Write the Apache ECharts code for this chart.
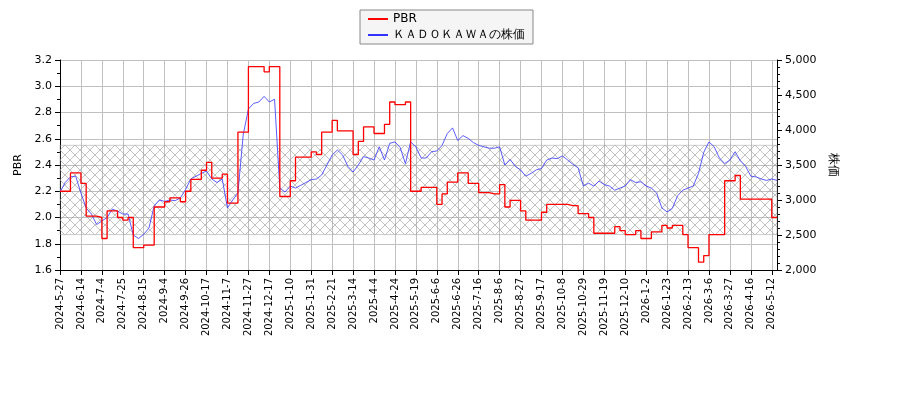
<!DOCTYPE html>
<html>
<head>
<meta charset="utf-8">
<script src="https://cdn.jsdelivr.net/npm/echarts@6/dist/echarts.min.js"></script>
</head>
<body style="margin:0">
<div id="chart" style="width:900px;height:400px"></div>
<script>
// tick labels, one every 4 samples
const tickLabels = ["2024-5-27","2024-6-14","2024-7-4","2024-7-25","2024-8-15","2024-9-4","2024-9-26","2024-10-17","2024-11-7","2024-11-27","2024-12-17","2025-1-10","2025-1-31","2025-2-21","2025-3-14","2025-4-4","2025-4-24","2025-5-19","2025-6-6","2025-6-26","2025-7-16","2025-8-6","2025-8-27","2025-9-17","2025-10-8","2025-10-29","2025-11-19","2025-12-10","2026-1-2","2026-1-23","2026-2-13","2026-3-6","2026-3-27","2026-4-16","2026-5-12"];

const pbr = [2.20,2.20,2.34,2.34,2.26,2.01,2.01,2.00,1.84,2.05,2.05,2.00,1.98,2.00,1.77,1.77,1.79,1.79,2.08,2.08,
  2.12,2.15,2.15,2.12,2.20,2.29,2.29,2.36,2.42,2.30,2.30,2.33,2.11,2.11,2.65,2.65,3.15,3.15,3.15,3.11,
  3.15,3.15,2.16,2.16,2.28,2.46,2.46,2.46,2.50,2.48,2.65,2.65,2.74,2.66,2.66,2.66,2.48,2.58,2.69,2.69,
  2.64,2.64,2.71,2.88,2.86,2.86,2.88,2.20,2.20,2.23,2.23,2.23,2.10,2.18,2.27,2.27,2.34,2.34,2.26,2.26,
  2.19,2.19,2.18,2.18,2.25,2.08,2.13,2.13,2.05,1.98,1.98,1.98,2.04,2.10,2.10,2.10,2.10,2.09,2.09,2.03,
  2.03,2.00,1.88,1.88,1.88,1.88,1.93,1.90,1.87,1.87,1.90,1.84,1.84,1.89,1.89,1.94,1.92,1.94,1.94,1.87,
  1.77,1.77,1.66,1.71,1.87,1.87,1.87,2.28,2.28,2.32,2.14,2.14,2.14,2.14,2.14,2.14,2.00,2.00];

const price = [3114,3250,3330,3340,3100,2886,2800,2650,2700,2750,2870,2840,2800,2800,2500,2450,2510,2600,2920,3000,
  2980,3000,2990,3030,3150,3300,3340,3380,3414,3300,3250,3300,2886,3000,3100,3930,4300,4380,4400,4480,
  4400,4440,3170,3114,3200,3170,3210,3250,3290,3300,3357,3500,3643,3714,3643,3480,3400,3500,3620,3600,
  3571,3760,3571,3810,3830,3750,3520,3830,3760,3600,3600,3690,3700,3780,3950,4030,3850,3920,3880,3820,
  3780,3760,3740,3740,3760,3500,3580,3480,3430,3340,3380,3430,3450,3571,3600,3590,3630,3571,3510,3460,
  3200,3240,3200,3270,3220,3200,3140,3170,3200,3290,3250,3260,3200,3170,3100,2886,2830,2880,3060,3140,
  3170,3200,3380,3680,3830,3760,3600,3520,3571,3690,3560,3480,3340,3330,3300,3280,3300,3280];

const band = [1.87, 2.55];
const step = 4;
const categories = pbr.map((_, i) => i);

// cross-hatch pattern for the band
const pat = document.createElement('canvas');
pat.width = 10; pat.height = 10;
const g = pat.getContext('2d');
g.strokeStyle = '#999'; g.lineWidth = 0.6;
g.beginPath(); g.moveTo(0, 0); g.lineTo(10, 10); g.moveTo(10, 0); g.lineTo(0, 10); g.stroke();

const chart = echarts.init(document.getElementById('chart'));
const font = 'DejaVu Sans';
chart.setOption({
  animation: false,
  textStyle: { fontFamily: font },
  legend: {
    top: 10, left: 360, orient: 'vertical',
    backgroundColor: '#f5f5f5', borderColor: '#888', borderWidth: 1, borderRadius: 0,
    padding: [3, 8], itemGap: 4, itemWidth: 20, itemHeight: 2,
    textStyle: { fontFamily: font, fontSize: 12, color: '#000' },
    data: [{ name: 'PBR', icon: 'rect' }, { name: 'ＫＡＤＯＫＡＷＡの株価', icon: 'rect' }]
  },
  grid: { left: 60, right: 123, top: 60, bottom: 130 },
  xAxis: {
    type: 'category', data: categories, boundaryGap: false,
    axisLine: { lineStyle: { color: '#000' } },
    axisTick: { interval: (i) => i % step === 0, lineStyle: { color: '#000' } },
    axisLabel: { interval: (i) => i % step === 0, rotate: 90, fontSize: 10, color: '#000',
      formatter: (v, i) => tickLabels[i / step] || '' },
    splitLine: { show: true, interval: (i) => i % step === 0, lineStyle: { color: '#c0c0c0' } }
  },
  yAxis: [{
    type: 'value', min: 1.6, max: 3.2, interval: 0.2, name: 'PBR', nameLocation: 'middle', nameGap: 35,
    nameTextStyle: { color: '#000', fontSize: 11 },
    axisLine: { show: true, lineStyle: { color: '#000' } }, axisTick: { show: true },
    minorTick: { show: true, splitNumber: 2 },
    axisLabel: { color: '#000', fontSize: 11, formatter: v => v.toFixed(1) },
    splitLine: { lineStyle: { color: '#c0c0c0' } }
  }, {
    type: 'value', min: 2000, max: 5000, interval: 500, name: '株価', nameLocation: 'middle', nameGap: 45,
    nameRotate: -90, nameTextStyle: { color: '#000', fontSize: 12 },
    axisLine: { show: true, lineStyle: { color: '#000' } }, axisTick: { show: true },
    minorTick: { show: true, splitNumber: 5 },
    axisLabel: { color: '#000', fontSize: 11 },
    splitLine: { show: false }
  }],
  series: [{
    name: 'PBR', type: 'line', step: 'end', data: pbr, symbol: 'none',
    lineStyle: { color: '#ff0000', width: 1.3 }, itemStyle: { color: '#ff0000' }, z: 3,
    markArea: {
      silent: true,
      itemStyle: { color: { image: pat, repeat: 'repeat' }, borderColor: '#999', borderWidth: 0.5 },
      data: [[{ yAxis: band[0], xAxis: 0 }, { yAxis: band[1], xAxis: categories.length - 1 }]]
    }
  }, {
    name: 'ＫＡＤＯＫＡＷＡの株価', type: 'line', yAxisIndex: 1, data: price, symbol: 'none',
    lineStyle: { color: '#3333ff', width: 0.8 }, itemStyle: { color: '#3333ff' }, z: 2
  }]
});
</script>
</body>
</html>
